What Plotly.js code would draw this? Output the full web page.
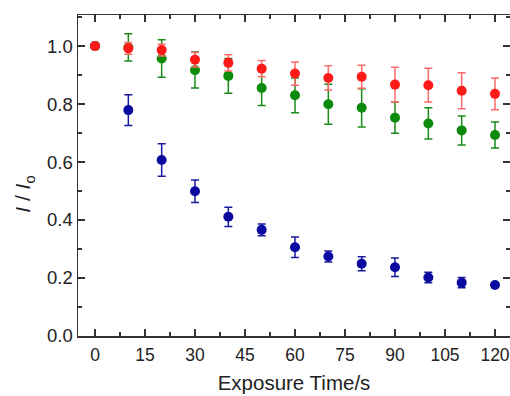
<!DOCTYPE html>
<html><head><meta charset="utf-8">
<script src="https://cdn.plot.ly/plotly-3.0.1.min.js"></script>
<style>html,body{margin:0;padding:0;background:#fff}#chart{width:510px;height:396px}</style>
</head><body><div id="chart"></div>
<script>
const time = [0,10,20,30,40,50,60,70,80,90,100,110,120];
const redY   = [1.0,0.992,0.986,0.953,0.942,0.922,0.905,0.890,0.894,0.867,0.865,0.846,0.835];
const redErr = [0,0.02,0.02,0.025,0.028,0.028,0.04,0.042,0.04,0.06,0.058,0.062,0.055];
const greenY   = [1.0,0.995,0.957,0.917,0.897,0.855,0.830,0.799,0.787,0.753,0.733,0.709,0.693];
const greenErr = [0,0.047,0.065,0.062,0.06,0.06,0.06,0.069,0.066,0.054,0.054,0.05,0.045];
const blueY   = [1.0,0.779,0.607,0.499,0.411,0.366,0.306,0.274,0.249,0.237,0.202,0.184,0.176];
const blueErr = [0,0.053,0.056,0.039,0.033,0.02,0.035,0.019,0.024,0.032,0.018,0.018,0.005];
const xTicks = [0,15,30,45,60,75,90,105,120];
const yTicks = [0.0,0.2,0.4,0.6,0.8,1.0];
const xTitle = 'Exposure Time/s';
const yTitle = '<i>I</i> / <i>I</i><sub>o</sub>';

function tr(y, err, col, ecol){
  return {x: time, y: y, type:'scatter', mode:'markers',
    marker:{color:col, size:10},
    error_y:{type:'data', array: err, visible:true, color: ecol, thickness:1.5, width:4},
    hoverinfo:'skip', showlegend:false};
}
const data = [
  tr(blueY, blueErr, '#0a0aa0', '#1a1aa0'),
  tr(greenY, greenErr, '#0b8a0b', '#1a8a1a'),
  tr(redY, redErr, '#ff1a1a', '#ff6a6a')
];
const FAM = 'Liberation Sans, Arial, sans-serif';
const axFont = {family:FAM, size:17.5, color:'#222'};
const layout = {
  width:510, height:396,
  margin:{l:78, r:0, t:15, b:60},
  paper_bgcolor:'#fff', plot_bgcolor:'#fff',
  xaxis:{range:[-5.1,124.5], tickvals:xTicks, ticktext:xTicks.map(String),
    ticks:'inside', ticklen:7, tickwidth:1.3, tickcolor:'#333',
    minor:{dtick:7.5, tick0:0, ticks:'inside', ticklen:4, tickwidth:1.3, tickcolor:'#333'},
    showline:true, linecolor:'#333', linewidth:1.5, mirror:'allticks',
    showgrid:false, zeroline:false, tickfont:axFont, ticklabelstandoff:2,
    title:{text:xTitle, font:{family:FAM, size:20.5, color:'#222'}, standoff:12}},
  yaxis:{range:[0,1.107], tickvals:yTicks, ticktext:yTicks.map(v=>v.toFixed(1)),
    ticks:'inside', ticklen:7, tickwidth:1.3, tickcolor:'#333',
    minor:{dtick:0.1, tick0:0, ticks:'inside', ticklen:4, tickwidth:1.3, tickcolor:'#333'},
    showline:true, linecolor:'#333', linewidth:1.5, mirror:'allticks',
    showgrid:false, zeroline:false, tickfont:{family:FAM, size:18.5, color:'#222'}},
  annotations:[{text:yTitle, textangle:-90, xref:'paper', yref:'paper',
    x:0, y:0.44, xanchor:'center', yanchor:'middle', xshift:-54, showarrow:false,
    font:{family:FAM, size:21, color:'#222'}}]
};
Plotly.newPlot('chart', data, layout, {displayModeBar:false, staticPlot:true});
</script></body></html>
